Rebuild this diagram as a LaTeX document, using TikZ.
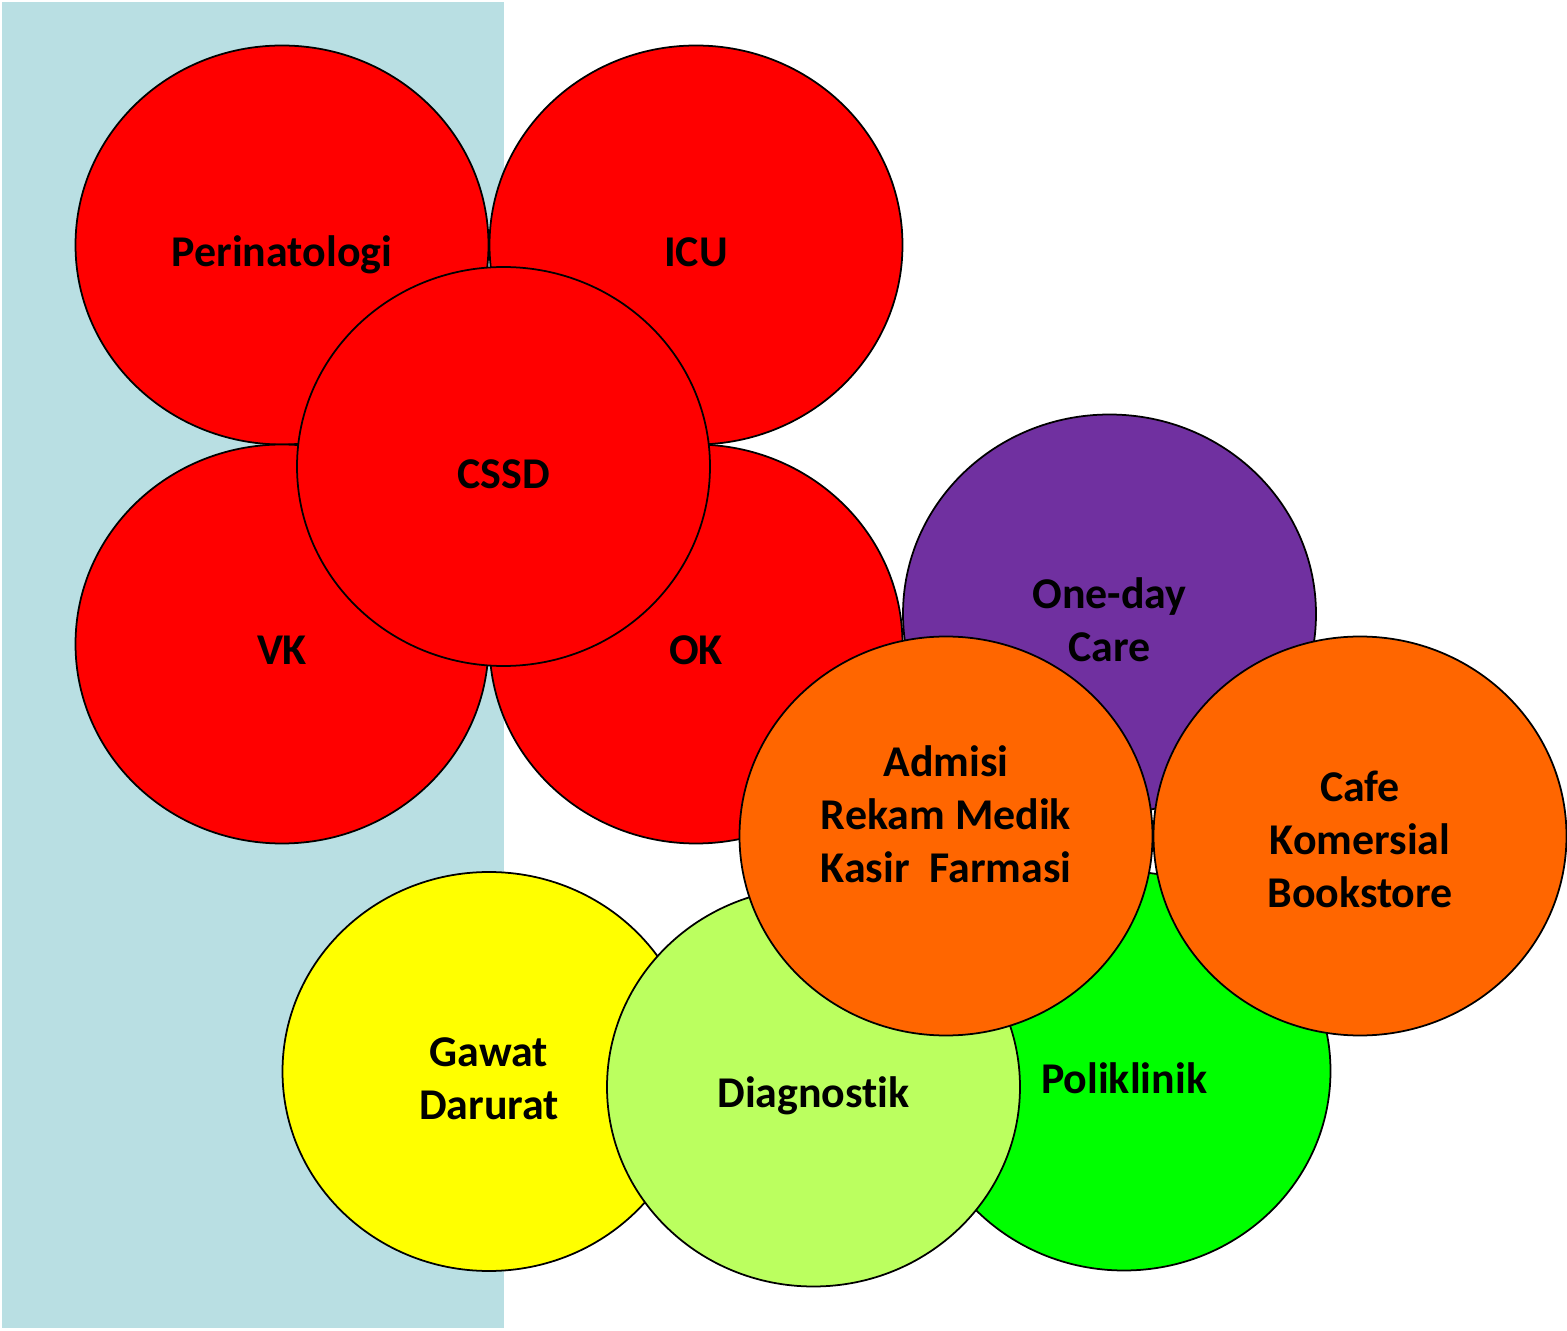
\documentclass[tikz,border=0pt]{standalone}
\usepackage{fontspec}
\setmainfont{Carlito}[Ligatures=NoCommon]
\usetikzlibrary{shapes.geometric}
\definecolor{zoneblue}{RGB}{185,223,227}
\definecolor{unitred}{RGB}{255,0,0}
\definecolor{unitpurple}{RGB}{112,48,160}
\definecolor{unitorange}{RGB}{255,102,0}
\definecolor{unityellow}{RGB}{255,255,0}
\definecolor{unitlime}{RGB}{187,255,95}
\definecolor{unitgreen}{RGB}{0,255,0}
\begin{document}
\begin{tikzpicture}[x=1cm,y=1cm,
    unit/.style={ellipse,draw=black,line width=0.5pt,inner sep=0pt,
        minimum width=4.13cm,minimum height=3.99cm},
    every label/.style={align=center,inner sep=0pt,
        font=\fontsize{12.5}{15.1}\selectfont\bfseries}]
    \useasboundingbox (0,0) rectangle (15.67,13.30);
    \fill[zoneblue] (0.02,0.02) rectangle (5.04,13.28);
    % red block
    \node[unit,fill=unitred,label={[yshift=-0.1cm]center:Perinatologi}] (P) at (2.82,10.85) {};
    \node[unit,fill=unitred,label={[yshift=-0.07cm]center:ICU}] (I) at (6.96,10.85) {};
    \node[unit,fill=unitred,label={[yshift=-0.06cm]center:VK}] (V) at (2.82,6.86) {};
    \node[unit,fill=unitred,label={[yshift=-0.06cm]center:OK}] (O) at (6.96,6.86) {};
    \node[unit,fill=unitred,label={[yshift=-0.08cm]center:CSSD}] (C) at (5.035,8.635) {};
    % lower block
    \node[unit,fill=unitgreen,label={[yshift=-0.07cm]center:Poliklinik}] (Pk) at (11.24,2.59) {};
    \node[unit,fill=unityellow,label={[yshift=-0.07cm]center:Gawat\\Darurat}] (G) at (4.89,2.585) {};
    \node[unit,fill=unitlime,label={[yshift=-0.09cm]center:Diagnostik}] (D) at (8.135,2.43) {};
    \node[unit,fill=unitpurple,label={[yshift=-0.06cm]center:One-day\\Care}] (Od) at (11.095,7.16) {};
    \node[unit,fill=unitorange,label={[yshift=0.22cm]center:Admisi\\Rekam Medik\\Kasir\ \ Farmasi}] (A) at (9.46,4.94) {};
    \node[unit,fill=unitorange,label={[yshift=-0.03cm]center:Cafe\\Komersial\\Bookstore}] (Cf) at (13.60,4.94) {};
\end{tikzpicture}
\end{document}
